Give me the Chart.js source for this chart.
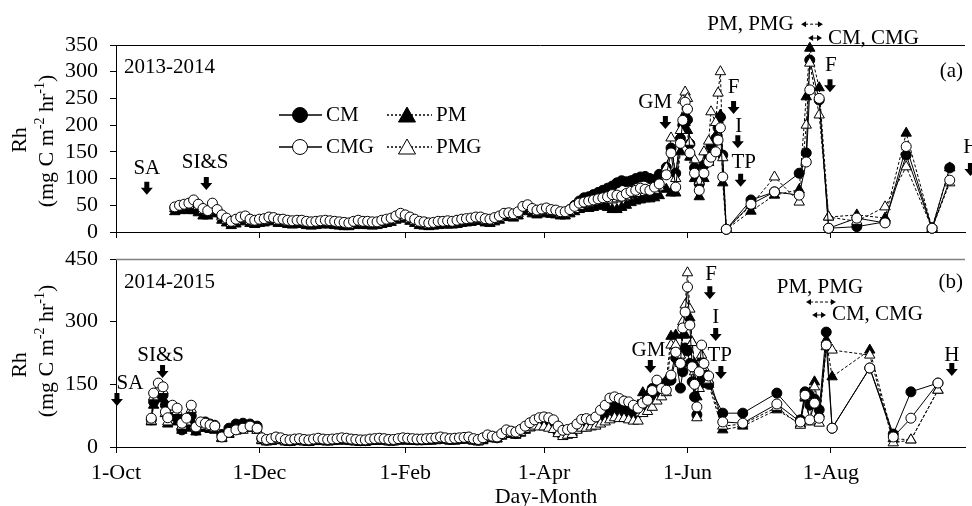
<!DOCTYPE html>
<html>
<head>
<meta charset="utf-8">
<script src="https://cdn.jsdelivr.net/npm/chart.js@4.4.0/dist/chart.umd.min.js"></script>
<style>
  html, body { margin:0; padding:0; background:#fff; }
  #wrap { position:relative; width:972px; height:506px; overflow:hidden; }
  canvas { position:absolute; left:0; }
  #cA { top:0; }
  #cB { top:250px; }
</style>
</head>
<body>
<div id="wrap">
  <canvas id="cA" width="972" height="250"></canvas>
  <canvas id="cB" width="972" height="256"></canvas>
</div>
<script>
const FONT = '"Liberation Serif","Times New Roman",serif';

// x axis: days since 1 Oct
const tickDays   = [0, 61, 123, 182, 243, 304];
const tickLabels = ['1-Oct', '1-Dec', '1-Feb', '1-Apr', '1-Jun', '1-Aug'];
const X_MAX = 361;

// (a) 2013-2014
const daysA = [25,27,29,31,33,35,37,39,41,43,
  45,47,49,51,53,55,57,59,61,63, 65,67,69,71,73,75,77,79,81,83, 85,87,89,91,93,95,97,99,101,103,
  105,107,109,111,113,115,117,119,121,123, 125,127,129,131,133,135,137,139,141,143,
  145,147,149,151,153,155,157,159,161,163, 165,167,169,171,173,175,177,179,181,183,
  185,187,189,191,193,195,197,199,201,203, 205,207,209,211,213,215,217,219,221,223, 225,227,229,231,
  234,236,238,240,241,242,243,244,246,248,250,252,253,255,256,257,258,259.5,
  270,280,290.5,293.5,295,299,303,315,327,336,347,354.5];
const cmA = [45,48,50,50,48,45,40,36,42,38,
  28,22,17,20,24,26,21,19,21,22, 25,24,21,21,19,18,19,19,17,16, 17,18,19,18,17,16,15,15,17,19,
  17,17,16,17,19,21,23,27,32,29, 25,21,17,16,15,16,17,18,18,18,
  19,21,22,23,25,25,22,21,24,27, 32,33,31,35,45,47,41,39,41,42,
  40,39,36,37,42,50,58,64,66,70, 74,78,82,86,92,96,94,96,100,103, 104,100,98,108,
  121,157,110,175,200,215,210,165,120,90,125,140,160,175,195,215,144,5,
  60,75,110,148,322,247,7,10,19,144,7,120];
const cmgA = [47,50,52,54,60,52,44,40,54,42,
  32,26,20,24,28,30,24,22,24,25, 28,27,24,24,22,21,22,22,20,19, 20,21,22,21,20,19,18,17,20,22,
  20,20,19,19,22,24,26,30,35,32, 28,24,20,19,17,18,20,20,21,20,
  22,24,25,26,28,28,25,24,27,30, 35,36,34,38,48,51,44,41,43,45,
  42,41,38,38,42,48,54,56,58,60, 62,64,66,70,69,67,72,76,78,82, 80,78,84,90,
  107,148,84,166,209,243,230,148,110,78,110,131,140,150,172,195,103,5,
  52,75,69,131,266,250,7,26,17,160,7,97];
const pmA = [38,40,42,40,40,36,30,30,36,34,
  22,17,12,15,19,21,16,14,16,17, 20,19,16,16,14,13,14,14,12,11, 12,13,14,13,12,11,10,10,12,14,
  12,12,11,12,14,16,18,22,27,24, 20,16,12,11,10,11,12,13,13,13,
  14,16,17,18,20,20,17,16,19,22, 27,28,26,30,38,40,34,32,34,36,
  33,32,30,30,34,38,42,44,44,46, 48,50,46,42,42,46,50,55,58,60, 62,62,64,68,
  80,73,73,150,190,205,190,140,100,66,100,130,150,180,210,219,92,5,
  39,69,79,253,344,270,28,32,26,185,7,120];
const pmgA = [44,46,48,50,55,48,40,38,50,40,
  28,22,16,20,24,26,20,18,20,21, 24,23,20,20,18,17,18,18,16,15, 16,17,18,17,16,15,14,13,16,18,
  16,16,15,15,18,20,22,26,31,28, 24,20,16,15,13,14,16,16,17,16,
  18,20,21,22,24,24,21,20,23,26, 31,32,30,34,44,46,40,37,39,40,
  38,37,34,34,38,42,48,52,54,56, 58,60,60,60,62,64,66,70,72,72, 74,76,78,84,
  120,176,100,190,247,262,250,168,135,95,150,170,225,205,260,300,139,5,
  50,103,56,200,316,219,28,20,47,122,7,92];

// (b) 2014-2015
const daysB = [15,16,18,20,21,22,24,26,28,30,32,34,36,38,40,42,45,48,51,54,57,60,
  62,64,66,68,70,72,74,76,78,80, 82,84,86,88,90,92,94,96,98,100, 102,104,106,108,110,112,114,116,118,120,
  122,124,126,128,130,132,134,136,138,140, 142,144,146,148,150,152,154,156,158,160, 162,164,166,168,170,172,174,176,178,
  180,182,184,186,188,190,192,194,196,198, 200,202,204,206,208,210,212,214,216,218, 220,222,224,226,228,230,232,234,236,
  238,240,241,242,243,244,245,246,247,248,249,250,252,
  258,266.5,281,291,293,295,297,299,302,304.5,320.5,330.5,338,349.5];
const cmB = [65,108,130,124,100,72,80,70,41,55,75,40,55,60,55,52,30,45,55,57,55,50,
  20,16,18,22,20,16,15,17,18,16, 15,17,19,17,16,17,18,20,19,17, 16,15,15,17,18,19,18,16,16,18,
  20,19,18,17,17,18,19,20,22,20, 18,19,20,21,22,18,16,20,26,24, 22,30,36,34,32,38,45,52,58,
  62,64,62,58,45,36,38,40,48,58, 60,58,64,75,86,98,104,100,96,92, 88,94,100,118,140,128,150,155,160,
  213,141,180,237,230,200,156,120,77,148,160,175,150,
  81,81,129,65,132,100,115,89,275,45,189,31,132,153];
const cmgB = [69,129,153,144,84,70,100,93,57,69,100,48,60,57,53,50,24,35,41,45,50,45,
  22,18,20,24,22,18,17,19,20,18, 17,19,21,19,18,19,20,22,21,19, 18,17,17,19,20,21,20,18,18,20,
  22,21,20,19,19,20,21,22,24,22, 20,21,22,23,24,20,18,22,29,26, 24,32,41,38,36,42,50,58,65,
  70,72,70,65,50,40,42,45,55,66, 68,65,72,88,100,117,120,116,110,108, 100,93,105,112,135,160,140,136,172,
  227,200,285,323,383,292,192,150,96,180,244,200,170,
  60,57,103,60,124,65,105,69,244,45,189,24,69,153];
const pmB = [60,100,120,115,80,55,70,60,40,45,60,36,45,45,42,40,20,30,40,45,45,40,
  15,12,13,17,15,12,11,13,14,12, 11,13,14,13,12,13,14,15,14,13, 12,11,11,13,14,14,14,12,12,14,
  15,14,14,13,13,14,14,15,18,16, 14,14,16,16,18,14,12,15,22,20, 19,26,32,30,28,33,40,46,52,
  55,56,55,50,38,30,32,35,42,50, 50,50,55,65,70,80,85,80,75,75, 72,100,130,125,120,135,150,160,265,
  268,200,268,268,300,309,250,200,120,160,213,180,150,
  41,50,89,55,117,130,156,80,256,168,232,20,17,136];
const pmgB = [62,120,140,135,80,60,90,85,50,60,90,45,55,50,48,45,22,32,38,40,45,40,
  17,14,15,19,17,14,13,15,16,14, 13,15,16,15,14,15,16,17,16,15, 14,13,13,15,16,16,16,14,14,16,
  17,16,16,15,15,16,16,17,20,18, 16,17,18,18,20,16,14,18,24,22, 20,28,34,32,30,35,42,46,50,
  48,48,45,42,32,25,28,30,40,45, 45,48,50,55,60,65,70,68,68,65, 62,62,80,85,95,110,120,130,244,
  244,220,300,340,417,330,250,180,70,140,220,190,160,
  50,55,95,52,120,60,144,57,240,232,220,10,17,136];

// management events (text labels and arrows, in day / Rh units)
const notesA = [
  { t:'SA', d:13.1, v:118 }, { t:'SI&S', d:37.9, v:131 }, { t:'GM', d:229.3, v:243 },
  { t:'F', d:262.6, v:270 }, { t:'I', d:264.8, v:198 }, { t:'TP', d:266.9, v:131 },
  { t:'PM, PMG', d:269.8, v:389 }, { t:'CM, CMG', d:302.7, v:363, left:true },
  { t:'F', d:304, v:311 }, { t:'H', d:363.5, v:159 }
];
const arrowsA = [
  { d:13.1, v:94 }, { d:38.4, v:103 }, { d:233.6, v:217 }, { d:262.6, v:245 },
  { d:264.4, v:181 }, { d:265.6, v:109 }, { d:303.6, v:286 }, { d:363.3, v:129 }
];
const spansA = [ { d0:291.3, d1:300.6, v:389, dash:true }, { d0:294.3, d1:300.2, v:363, dash:false } ];

const notesB = [
  { t:'SA', d:5.9, v:151 }, { t:'SI&S', d:19, v:218 }, { t:'GM', d:226.4, v:232 },
  { t:'F', d:253, v:412 }, { t:'I', d:255, v:309 }, { t:'TP', d:256.7, v:218 },
  { t:'PM, PMG', d:299.3, v:381 }, { t:'CM, CMG', d:304.4, v:316, left:true },
  { t:'H', d:355.4, v:218 }
];
const arrowsB = [
  { d:0.4, v:129 }, { d:19.8, v:196 }, { d:227.2, v:208 }, { d:252.5, v:385 },
  { d:255, v:285 }, { d:257.2, v:194 }, { d:355.4, v:201 }
];
const spansB = [ { d0:293.4, d1:306.1, v:347, dash:true }, { d0:296, d1:301.9, v:316, dash:false } ];

const STY = {
  CM:  { ps:'circle',   r:5, bg:'#000', dash:[] },
  CMG: { ps:'circle',   r:5, bg:'#fff', dash:[] },
  PM:  { ps:'triangle', r:6, bg:'#000', dash:[3,2] },
  PMG: { ps:'triangle', r:6, bg:'#fff', dash:[3,2] },
};

function ds(label, days, vals) {
  const s = STY[label];
  return {
    label, data: days.map((d, i) => ({ x:d, y:vals[i] })),
    borderColor:'#000', borderWidth:1, borderDash:s.dash, tension:0, fill:false, clip:false,
    pointStyle:s.ps, pointRadius:s.r, pointBackgroundColor:s.bg, pointBorderColor:'#000', pointBorderWidth:1
  };
}

function drawArrow(ctx, cx, top) {
  ctx.beginPath();
  ctx.moveTo(cx - 2.5, top); ctx.lineTo(cx + 2.5, top); ctx.lineTo(cx + 2.5, top + 6);
  ctx.lineTo(cx + 6, top + 6); ctx.lineTo(cx, top + 13); ctx.lineTo(cx - 6, top + 6);
  ctx.lineTo(cx - 2.5, top + 6); ctx.closePath(); ctx.fill();
}

function drawSpan(ctx, x0, x1, yy, dash) {
  ctx.lineWidth = 1;
  ctx.setLineDash(dash ? [3,2] : []);
  ctx.beginPath(); ctx.moveTo(x0 + 4, yy); ctx.lineTo(x1 - 4, yy); ctx.stroke();
  ctx.setLineDash([]);
  ctx.beginPath(); ctx.moveTo(x0, yy); ctx.lineTo(x0 + 5, yy - 3); ctx.lineTo(x0 + 5, yy + 3); ctx.closePath(); ctx.fill();
  ctx.beginPath(); ctx.moveTo(x1, yy); ctx.lineTo(x1 - 5, yy - 3); ctx.lineTo(x1 - 5, yy + 3); ctx.closePath(); ctx.fill();
}

function drawMarker(ctx, kind, x, y, fill) {
  ctx.fillStyle = fill; ctx.strokeStyle = '#000'; ctx.lineWidth = 1; ctx.setLineDash([]);
  ctx.beginPath();
  if (kind === 'circle') ctx.arc(x, y, 7.5, 0, Math.PI * 2);
  else { ctx.moveTo(x, y - 8); ctx.lineTo(x + 8.5, y + 7); ctx.lineTo(x - 8.5, y + 7); ctx.closePath(); }
  ctx.fill(); ctx.stroke();
}

function drawLegend(ctx) {
  const items = [
    { t:'CM',  x0:279, x1:322, mx:300, y:115, k:'circle',   f:'#000', dash:[] },
    { t:'CMG', x0:279, x1:322, mx:300, y:147, k:'circle',   f:'#fff', dash:[] },
    { t:'PM',  x0:387, x1:432, mx:407, y:115, k:'triangle', f:'#000', dash:[2,2] },
    { t:'PMG', x0:387, x1:432, mx:407, y:147, k:'triangle', f:'#fff', dash:[2,2] },
  ];
  items.forEach(it => {
    ctx.strokeStyle = '#000'; ctx.lineWidth = 1.5; ctx.setLineDash(it.dash);
    ctx.beginPath(); ctx.moveTo(it.x0, it.y); ctx.lineTo(it.x1, it.y); ctx.stroke();
    drawMarker(ctx, it.k, it.mx, it.y, it.f);
    ctx.fillStyle = '#000'; ctx.font = `21px ${FONT}`; ctx.textAlign = 'left'; ctx.textBaseline = 'middle';
    ctx.fillText(it.t, it.x1 + 4, it.y);
  });
}

function drawYTitle(ctx, xRh, yRh, x2, y2) {
  ctx.save();
  ctx.fillStyle = '#000'; ctx.textBaseline = 'middle';
  ctx.translate(xRh, yRh); ctx.rotate(-Math.PI / 2);
  ctx.font = `22px ${FONT}`; ctx.textAlign = 'center';
  ctx.fillText('Rh', 0, 0);
  ctx.restore();
  ctx.save();
  ctx.fillStyle = '#000'; ctx.textBaseline = 'middle'; ctx.textAlign = 'left';
  ctx.translate(x2, y2); ctx.rotate(-Math.PI / 2);
  const parts = [['(mg C m', 0], ['-2', 1], [' hr', 0], ['-1', 1], [')', 0]];
  const fnt = p => p[1] ? `14px ${FONT}` : `22px ${FONT}`;
  let w = 0;
  parts.forEach(p => { ctx.font = fnt(p); w += ctx.measureText(p[0]).width; });
  let x = -w / 2;
  parts.forEach(p => {
    ctx.font = fnt(p);
    ctx.fillText(p[0], x, p[1] ? -7 : 0);
    x += ctx.measureText(p[0]).width;
  });
  ctx.restore();
}

const decoPlugin = {
  id: 'deco',
  afterDraw(chart, args, o) {
    const { ctx, chartArea: a } = chart;
    const sx = chart.scales.x, sy = chart.scales.y;
    ctx.save();
    // top frame line
    ctx.strokeStyle = o.frameColor; ctx.lineWidth = o.frameWidth;
    ctx.beginPath(); ctx.moveTo(a.left, a.top + 0.5); ctx.lineTo(a.right, a.top + 0.5); ctx.stroke();

    ctx.fillStyle = '#000'; ctx.strokeStyle = '#000';
    ctx.font = `21px ${FONT}`; ctx.textBaseline = 'middle';
    ctx.textAlign = 'left'; ctx.fillText(o.season, a.left + 8, o.seasonY);
    ctx.textAlign = 'right'; ctx.fillText(o.tag, a.right - 2, o.tagY);

    o.notes.forEach(n => {
      ctx.textAlign = n.left ? 'left' : 'center';
      ctx.fillText(n.t, sx.getPixelForValue(n.d), sy.getPixelForValue(n.v));
    });
    o.arrows.forEach(r => drawArrow(ctx, sx.getPixelForValue(r.d), sy.getPixelForValue(r.v)));
    o.spans.forEach(s => drawSpan(ctx, sx.getPixelForValue(s.d0), sx.getPixelForValue(s.d1), sy.getPixelForValue(s.v), s.dash));

    drawYTitle(ctx, 20, o.rhY, 47, o.unitY);
    if (o.legend) drawLegend(ctx);
    if (o.xTitle) {
      ctx.fillStyle = '#000'; ctx.font = `22px ${FONT}`; ctx.textAlign = 'center'; ctx.textBaseline = 'middle';
      ctx.fillText(o.xTitle, 546, 247);
    }
    ctx.restore();
  }
};

function makeChart(id, days, cm, cmg, pm, pmg, yMax, yStep, showX, deco) {
  return new Chart(document.getElementById(id), {
    type: 'line',
    data: { datasets: [ds('CMG', days, cmg), ds('PMG', days, pmg), ds('CM', days, cm), ds('PM', days, pm)] },
    options: {
      responsive: false, animation: false,
      layout: { padding: { top: showX ? 9 : 45, left: 0, right: 0, bottom: 0 } },
      plugins: { legend: { display:false }, tooltip: { enabled:false }, deco },
      scales: {
        x: {
          type: 'linear', min: 0, max: X_MAX,
          afterBuildTicks: s => { s.ticks = tickDays.map(v => ({ value: v })); },
          afterFit: s => { s.height = showX ? 59 : 18; s.paddingLeft = 0; s.paddingRight = 0; },
          grid: { drawOnChartArea:false, drawTicks:true, tickLength:6, color:'#000', lineWidth:1 },
          border: { display:true, color:'#000', width:1 },
          ticks: { display: showX, color:'#000', font:{ family:FONT, size:22 }, padding:7, maxRotation:0, autoSkip:false,
                   callback: v => tickLabels[tickDays.indexOf(v)] }
        },
        y: {
          min: 0, max: yMax,
          afterFit: s => { s.width = 116; s.paddingTop = 0; s.paddingBottom = 0; },
          grid: { drawOnChartArea:false, drawTicks:true, tickLength:6, color:'#000', lineWidth:1 },
          border: { display:true, color:'#000', width:1 },
          ticks: { stepSize:yStep, autoSkip:false, color:'#000', font:{ family:FONT, size:22 }, padding:12 }
        }
      }
    },
    plugins: [decoPlugin]
  });
}

makeChart('cA', daysA, cmA, cmgA, pmA, pmgA, 350, 50, false, {
  frameColor:'#000', frameWidth:1, season:'2013-2014', seasonY:67, tag:'(a)', tagY:71,
  notes:notesA, arrows:arrowsA, spans:spansA, rhY:140, unitY:141, legend:true
});
makeChart('cB', daysB, cmB, cmgB, pmB, pmgB, 450, 150, true, {
  frameColor:'#808080', frameWidth:1.5, season:'2014-2015', seasonY:32, tag:'(b)', tagY:32,
  notes:notesB, arrows:arrowsB, spans:spansB, rhY:115, unitY:101, xTitle:'Day-Month'
});
</script>
</body>
</html>
